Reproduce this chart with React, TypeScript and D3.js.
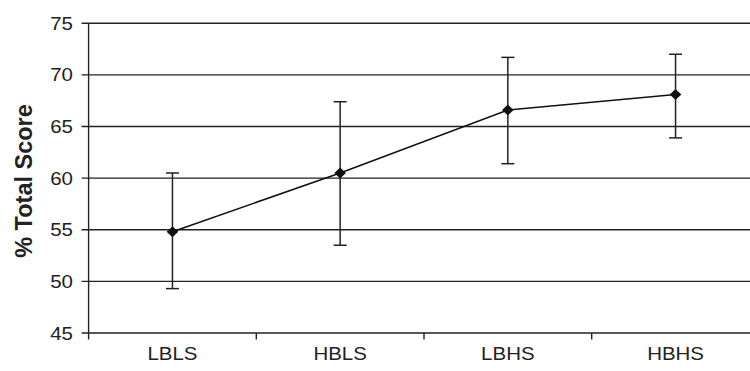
import React from "react";
import * as d3 from "d3";

const categories = ["LBLS", "HBLS", "LBHS", "HBHS"];
const means = [54.8, 60.5, 66.6, 68.1];
const upper = [60.5, 67.4, 71.7, 72.0];
const lower = [49.3, 53.5, 61.4, 63.9];
const yTicks = [45, 50, 55, 60, 65, 70, 75];

export default function App() {
  const W = 750, H = 371;
  const left = 88.6, right = 759.4, top = 23.3, bottom = 333;
  const x = d3.scaleBand<string>().domain(categories).range([left, right]);
  const y = d3.scaleLinear().domain([45, 75]).range([bottom, top]);
  const cx = (c: string) => (x(c) as number) + x.bandwidth() / 2;
  const line = d3.line<number>().x((_, i) => cx(categories[i])).y((d) => y(d));
  const stroke = "#222";
  const sx = 1.15;
  const boundaries = categories.slice(1).map((c) => x(c) as number);
  return (
    <svg width={W} height={H} style={{ position: "absolute", left: 0, top: 0, background: "#fff" }}
      fontFamily="'Liberation Sans', Arial, sans-serif">
      <rect width={W} height={H} fill="#fff" />
      {yTicks.map((t) => (
        <g key={t}>
          <line x1={left - 7} x2={right} y1={y(t)} y2={y(t)} stroke={stroke} strokeWidth={1.4} />
          <text x={0} y={0} fontSize={17.8} textAnchor="end" dominantBaseline="central" fill="#222"
            transform={`translate(73,${y(t) + 0.5}) scale(${sx},1)`}>{t}</text>
        </g>
      ))}
      <line x1={left} x2={left} y1={top} y2={bottom + 6.5} stroke={stroke} strokeWidth={1.4} />
      {boundaries.map((b, i) => (
        <line key={i} x1={b} x2={b} y1={bottom} y2={bottom + 6.5} stroke={stroke} strokeWidth={1.4} />
      ))}
      {categories.map((c) => (
        <text key={c} x={0} y={0} fontSize={17.8} textAnchor="middle" fill="#222"
          transform={`translate(${cx(c)},360) scale(${sx},1)`}>{c}</text>
      ))}
      <text x={0} y={0} fontSize={23.5} fontWeight="bold" textAnchor="middle" dominantBaseline="central" fill="#222"
        transform={`translate(23.5,181) rotate(-90) scale(1,${sx * 0.9})`}>% Total Score</text>
      {categories.map((c, i) => (
        <g key={c} stroke={stroke} strokeWidth={1.5}>
          <line x1={cx(c)} x2={cx(c)} y1={y(upper[i])} y2={y(lower[i])} />
          <line x1={cx(c) - 6.5} x2={cx(c) + 6.5} y1={y(upper[i])} y2={y(upper[i])} />
          <line x1={cx(c) - 6.5} x2={cx(c) + 6.5} y1={y(lower[i])} y2={y(lower[i])} />
        </g>
      ))}
      <path d={line(means) || ""} fill="none" stroke="#111" strokeWidth={1.6} />
      {categories.map((c, i) => (
        <path key={c} d="M0,-5.5 L5.8,0 L0,5.5 L-5.8,0 Z" fill="#111"
          transform={`translate(${cx(c)},${y(means[i])})`} />
      ))}
    </svg>
  );
}
